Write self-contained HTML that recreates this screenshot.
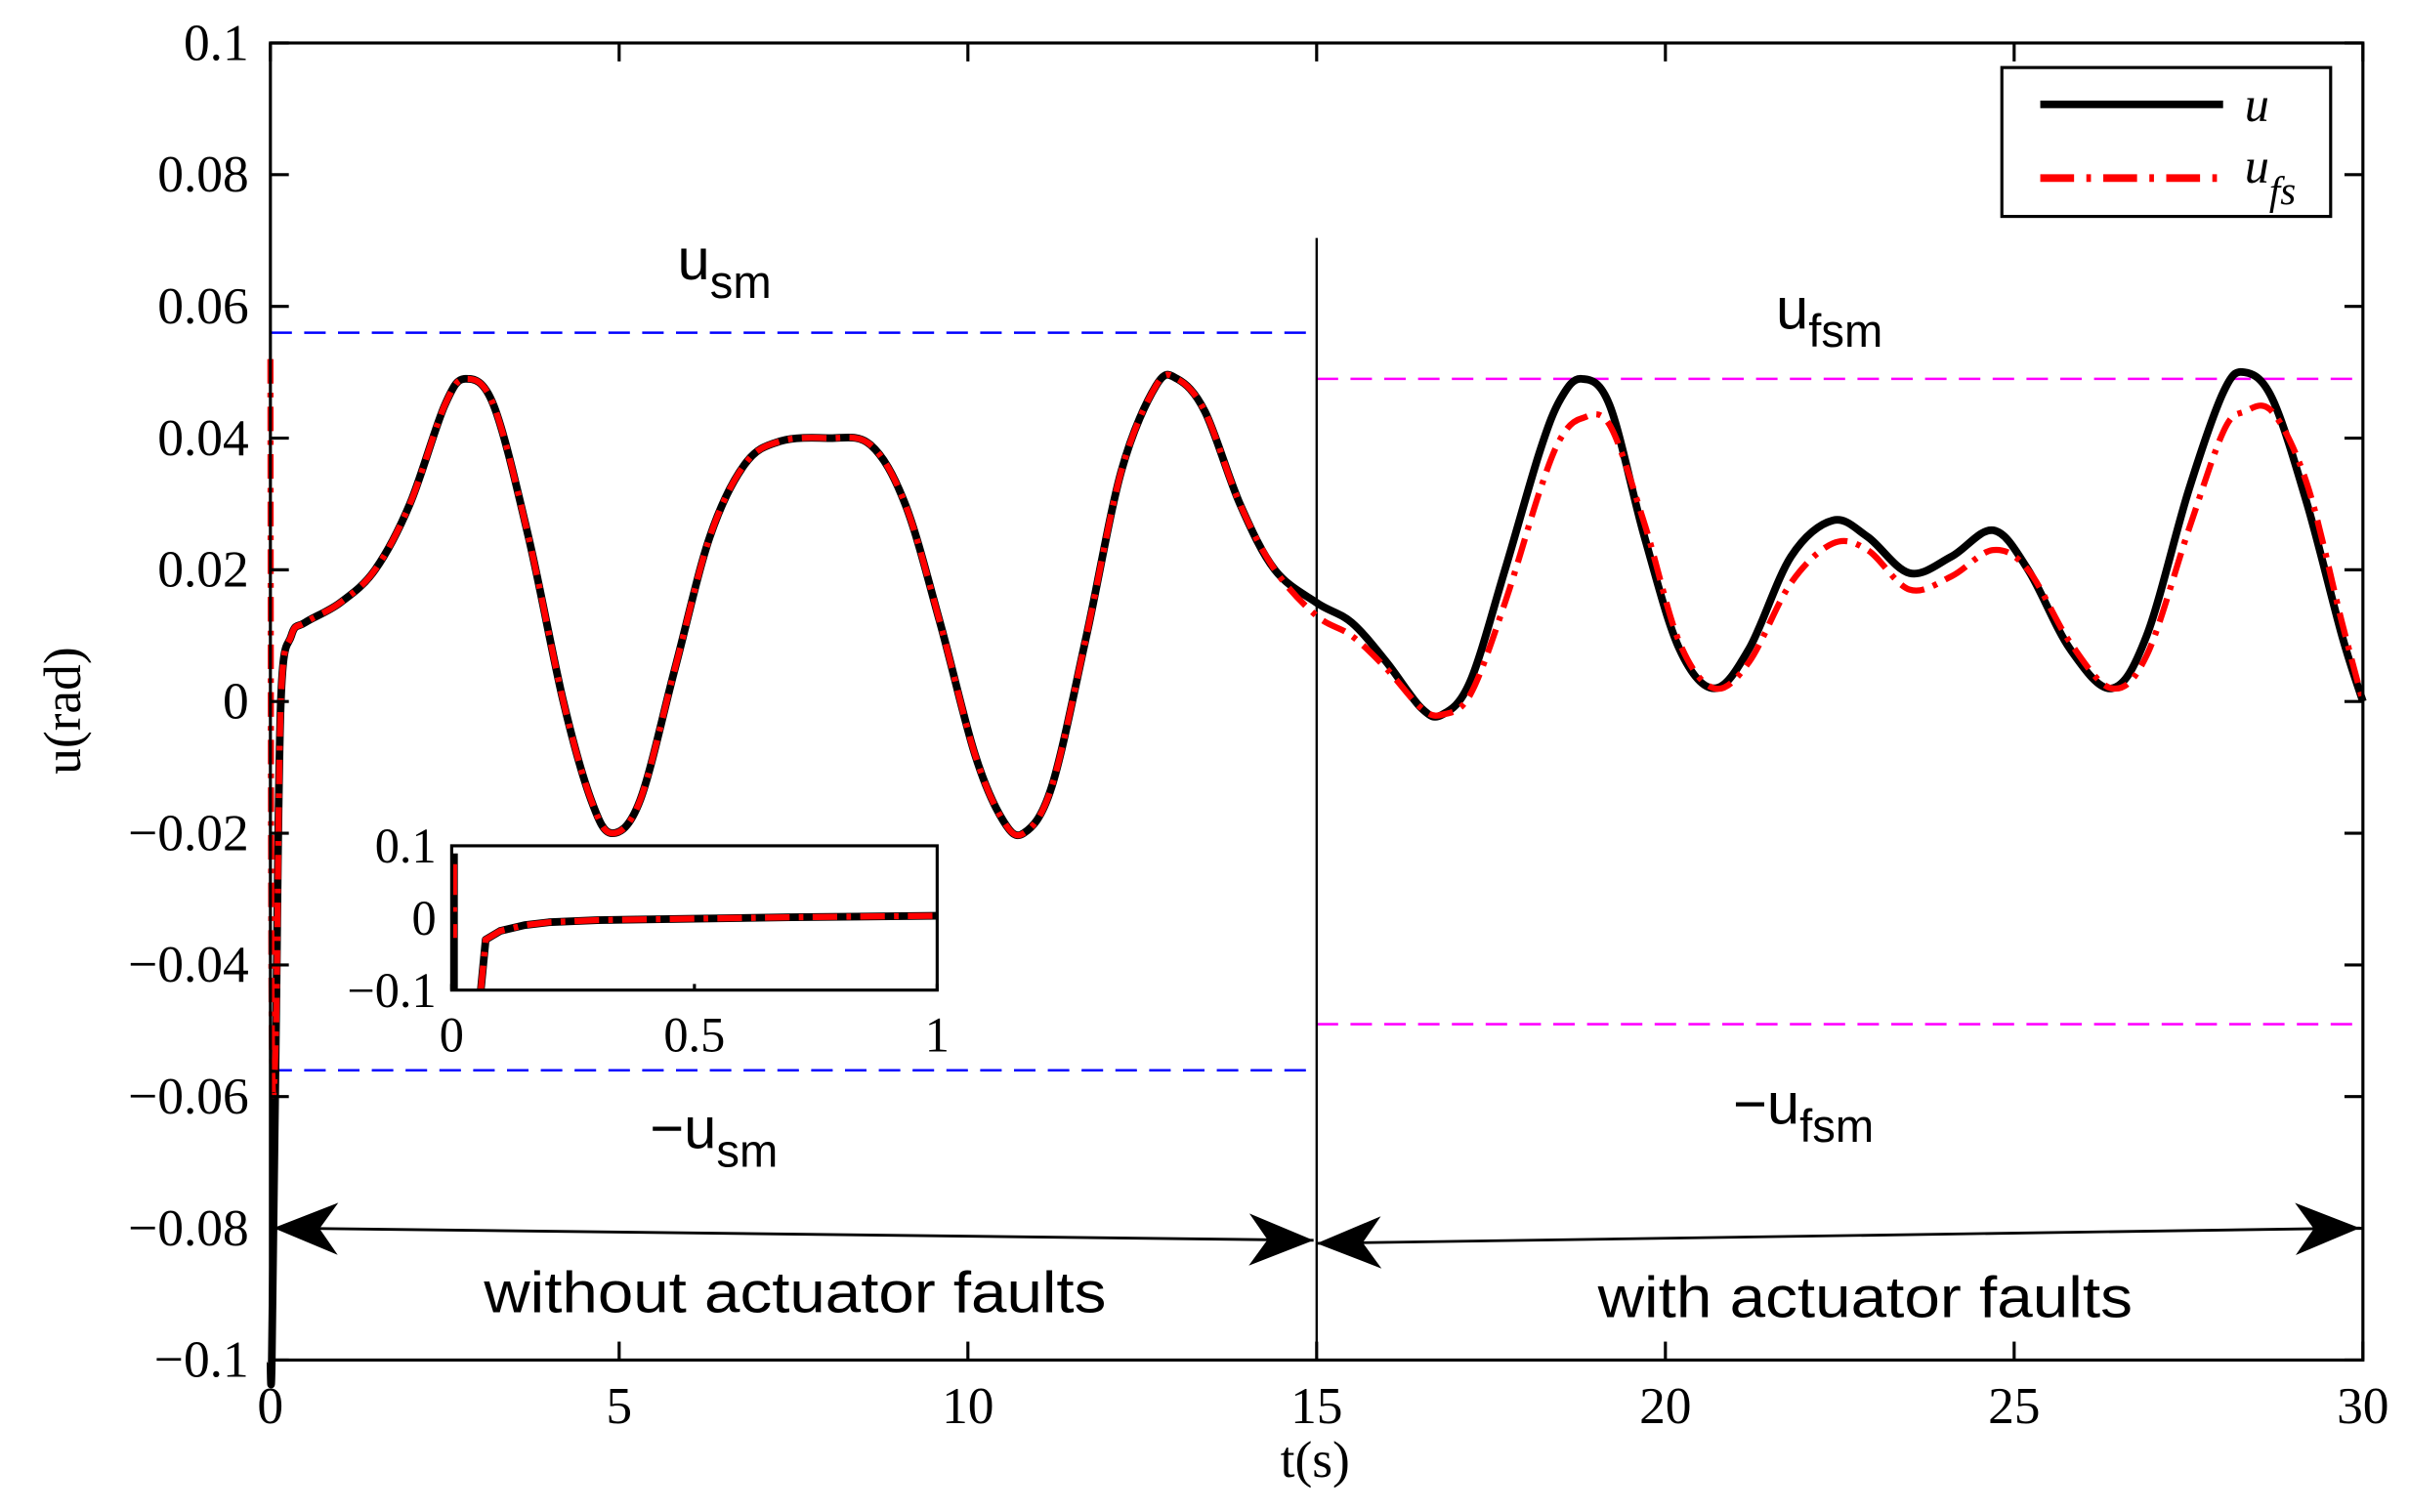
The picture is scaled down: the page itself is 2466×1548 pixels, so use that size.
<!DOCTYPE html>
<html><head><meta charset="utf-8"><style>
html,body{margin:0;padding:0;background:#fff;}
svg{display:block;}
text{font-family:"Liberation Serif",serif;}
.sans{font-family:"Liberation Sans",sans-serif;}
</style></head><body>
<svg id="chart" width="2466" height="1548" viewBox="0 0 1568 985" preserveAspectRatio="none" xmlns="http://www.w3.org/2000/svg">
<g id="g"></g>
</svg>
<script>
const tU=[0,0.02,0.08,0.15,0.3,0.5,1,1.5,2,2.5,2.8,3.2,3.7,4.2,4.6,4.9,5.3,5.8,6.3,6.8,7.3,8,8.6,9.1,9.6,10.1,10.5,10.8,11.2,11.7,12.2,12.7,13,13.4,13.9,14.4,15,15.5,16,16.5,16.8,17.2,17.7,18.2,18.5,18.8,19.2,19.7,20.2,20.7,21.2,21.8,22.4,22.9,23.5,24.1,24.7,25.2,25.8,26.4,26.9,27.5,28.0,28.3,28.7,29.2,29.7,30];
const uVals=[-0.1,-0.1,-0.05,0,0.01,0.012,0.015,0.02,0.03,0.045,0.049,0.045,0.025,0.0,-0.015,-0.02,-0.015,0.005,0.025,0.036,0.0395,0.04,0.039,0.03,0.012,-0.008,-0.018,-0.02,-0.013,0.01,0.035,0.048,0.049,0.044,0.03,0.02,0.015,0.012,0.006,-0.001,-0.002,0.003,0.02,0.038,0.046,0.049,0.045,0.025,0.008,0.002,0.008,0.022,0.0275,0.025,0.0195,0.022,0.026,0.02,0.008,0.002,0.01,0.032,0.047,0.05,0.046,0.03,0.01,0];
const ufsVals=[0.052,-0.05,-0.05,0,0.01,0.012,0.015,0.02,0.03,0.045,0.049,0.045,0.025,0.0,-0.015,-0.02,-0.015,0.005,0.025,0.036,0.0395,0.04,0.039,0.03,0.012,-0.008,-0.018,-0.02,-0.013,0.01,0.035,0.048,0.049,0.044,0.03,0.02,0.013,0.01,0.005,-0.001,-0.002,0.001,0.015,0.032,0.04,0.043,0.042,0.027,0.009,0.002,0.006,0.018,0.024,0.023,0.017,0.019,0.023,0.02,0.009,0.002,0.007,0.026,0.041,0.044,0.044,0.033,0.012,0];
const yTicks=[0.1,0.08,0.06,0.04,0.02,0,-0.02,-0.04,-0.06,-0.08,-0.1];
const yTickLabels=["0.1","0.08","0.06","0.04","0.02","0","\u22120.02","\u22120.04","\u22120.06","\u22120.08","\u22120.1"];
const xTicks=[0,5,10,15,20,25,30];
const insetT=[0,0.06,0.07,0.1,0.15,0.2,0.3,0.5,0.7,1];
const insetU=[null,-0.1,-0.03,-0.018,-0.01,-0.006,-0.003,-0.001,0.001,0.003];
const usm=0.056, ufsm=0.049;

const L=176,R=1538,T=28,B=886;
const X=t=>L+(t-0)/30*(R-L);
const Y=v=>B-(v+0.1)/0.2*(B-T);
const NS="http://www.w3.org/2000/svg";
const g=document.getElementById('g');
function el(tag,attrs,parent){const e=document.createElementNS(NS,tag);for(const k in attrs)e.setAttribute(k,attrs[k]);(parent||g).appendChild(e);return e;}
function smooth(pts){let d=`M${pts[0][0]},${pts[0][1]}`;for(let i=0;i<pts.length-1;i++){const p0=pts[Math.max(0,i-1)],p1=pts[i],p2=pts[i+1],p3=pts[Math.min(pts.length-1,i+2)];
const c1=[p1[0]+(p2[0]-p0[0])/6,p1[1]+(p2[1]-p0[1])/6],c2=[p2[0]-(p3[0]-p1[0])/6,p2[1]-(p3[1]-p1[1])/6];
d+=` C${c1[0]},${c1[1]} ${c2[0]},${c2[1]} ${p2[0]},${p2[1]}`;}return d;}

let e;
e=el('line',{x1:X(0),x2:X(15),y1:Y(usm),y2:Y(usm),stroke:'#0000ff','stroke-width':1.6,'stroke-dasharray':'14,8'});

e=el('line',{x1:X(0),x2:X(15),y1:Y(-usm),y2:Y(-usm),stroke:'#0000ff','stroke-width':1.6,'stroke-dasharray':'14,8'});

e=el('line',{x1:X(15),x2:X(30),y1:Y(ufsm),y2:Y(ufsm),stroke:'#ff00ff','stroke-width':1.6,'stroke-dasharray':'14,8'});

e=el('line',{x1:X(15),x2:X(30),y1:Y(-ufsm),y2:Y(-ufsm),stroke:'#ff00ff','stroke-width':1.6,'stroke-dasharray':'14,8'});

e=el('line',{x1:X(15),x2:X(15),y1:155,y2:B,stroke:'#000','stroke-width':1.5});


const pu=tU.map((t,i)=>[X(t),Y(uVals[i])]);
e=el('path',{d:smooth(pu),fill:'none',stroke:'#000','stroke-width':5,'stroke-linejoin':'round'});

const pf=tU.map((t,i)=>[X(t),Y(ufsVals[i])]);
e=el('path',{d:smooth(pf),fill:'none',stroke:'#ff0000','stroke-width':4,'stroke-dasharray':'16,6,3,6'});


function arrow(x1,y1,x2,y2,name){
 const gg=el('g',{});
 el('line',{x1,y1,x2,y2,stroke:'#000','stroke-width':1.8},gg);
 [[x1,y1,x2,y2],[x2,y2,x1,y1]].forEach(([ax,ay,bx,by])=>{
  const a=Math.atan2(ay-by,ax-bx),c=Math.cos(a),s=Math.sin(a);
  const pt=(l,w)=>[ax-l*c-w*(-s),ay-l*s-w*c];
  const p1=pt(42,17),p2=pt(30,0),p3=pt(42,-17);
  el('path',{d:`M${ax},${ay} L${p1} L${p2} L${p3} Z`,fill:'#000'},gg);});
}
arrow(178,800,855,808,'arrow-without-faults');
arrow(857,810,1536,800,'arrow-with-faults');

e=el('rect',{x:L,y:T,width:R-L,height:B-T,fill:'none',stroke:'#000','stroke-width':2});

yTicks.forEach((v,i)=>{
 el('line',{x1:L,x2:L+12,y1:Y(v),y2:Y(v),stroke:'#000','stroke-width':2});
 el('line',{x1:R,x2:R-12,y1:Y(v),y2:Y(v),stroke:'#000','stroke-width':2});
 const t=el('text',{x:162,y:Y(v)+11,'text-anchor':'end','font-size':34});t.textContent=yTickLabels[i];
 
});
xTicks.forEach(v=>{
 el('line',{x1:X(v),x2:X(v),y1:B,y2:B-12,stroke:'#000','stroke-width':2});
 el('line',{x1:X(v),x2:X(v),y1:T,y2:T+12,stroke:'#000','stroke-width':2});
 const t=el('text',{x:X(v),y:927,'text-anchor':'middle','font-size':34});t.textContent=String(v);
 
});
e=el('text',{x:856,y:962,'text-anchor':'middle','font-size':34});e.textContent='t(s)';

e=el('text',{x:0,y:0,'text-anchor':'middle','font-size':34,transform:'translate(52,463) rotate(-90)'});e.textContent='u(rad)';


function lab(x,y,main,sub,name){
 const t=el('text',{x,y,'font-size':38,class:'sans'});
 
 const a=el('tspan',{},t);a.textContent=main;
 if(sub){const b=el('tspan',{dy:12,'font-size':30},t);b.textContent=sub;}
}
lab(441,182,'u','sm','label-usm');
lab(423,748,'\u2212u','sm','label-neg-usm');
lab(1156,214,'u','fsm','label-ufsm');
lab(1128,732,'\u2212u','fsm','label-neg-ufsm');
e=el('text',{x:315,y:855,'font-size':38,class:'sans',textLength:405,lengthAdjust:'spacingAndGlyphs'});e.textContent='without actuator faults';

e=el('text',{x:1040,y:858,'font-size':38,class:'sans',textLength:348,lengthAdjust:'spacingAndGlyphs'});e.textContent='with actuator faults';


const lg=el('g',{});
el('rect',{x:1303,y:44,width:214,height:97,fill:'#fff',stroke:'#000','stroke-width':2},lg);
el('line',{x1:1328,x2:1447,y1:68,y2:68,stroke:'#000','stroke-width':5},lg);
e=el('text',{x:1461,y:79,'font-size':32,'font-style':'italic'},lg);e.textContent='u';

el('line',{x1:1328,x2:1447,y1:116,y2:116,stroke:'#ff0000','stroke-width':5,'stroke-dasharray':'22,8,3,8'},lg);
e=el('text',{x:1461,y:119,'font-size':32,'font-style':'italic'},lg);

const ta=el('tspan',{},e);ta.textContent='u';const tb=el('tspan',{dy:14,'font-size':26},e);tb.textContent='fs';

const IL=294,IR=610,IT=551,IB=645;
const IX=t=>IL+t*(IR-IL), IY=v=>IB-(v+0.1)/0.2*(IB-IT);
const ig=el('g',{});
el('rect',{x:IL,y:IT,width:IR-IL,height:IB-IT,fill:'#fff',stroke:'none'},ig);
el('line',{x1:IX(0)+2,x2:IX(0)+2,y1:IT+5,y2:IB,stroke:'#000','stroke-width':4},ig);
el('line',{x1:IX(0)+2,x2:IX(0)+2,y1:IT+12,y2:IT+60,stroke:'#ff0000','stroke-width':3,'stroke-dasharray':'20,8,3,8'},ig);
const ip=[];insetT.forEach((t,i)=>{if(insetU[i]!==null)ip.push([IX(t),IY(insetU[i])]);});
el('path',{d:'M'+ip.map(p=>p.join(',')).join(' L'),fill:'none',stroke:'#000','stroke-width':5,'stroke-linejoin':'round'},ig);
el('path',{d:'M'+ip.map(p=>p.join(',')).join(' L'),fill:'none',stroke:'#ff0000','stroke-width':4,'stroke-dasharray':'16,6,3,6'},ig);
el('rect',{x:IL,y:IT,width:IR-IL,height:IB-IT,fill:'none',stroke:'#000','stroke-width':2},ig);
[[0.1,'0.1'],[0,'0'],[-0.1,'\u22120.1']].forEach(([v,s])=>{const t=el('text',{x:IL-10,y:IY(v)+11,'text-anchor':'end','font-size':32},ig);t.textContent=s;});
[[0,'0'],[0.5,'0.5'],[1,'1']].forEach(([v,s])=>{const t=el('text',{x:IX(v),y:685,'text-anchor':'middle','font-size':32},ig);t.textContent=s;
 el('line',{x1:IX(v),x2:IX(v),y1:IB,y2:IB-4,stroke:'#000','stroke-width':2},ig);});
</script>
</body></html>
